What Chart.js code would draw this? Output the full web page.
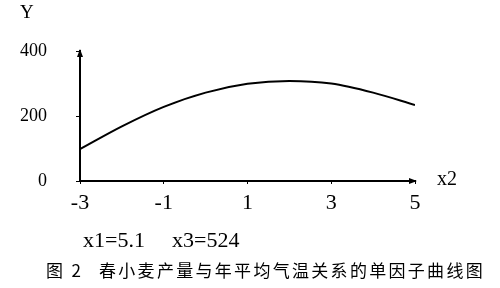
<!DOCTYPE html>
<html>
<head>
<meta charset="utf-8">
<script src="https://cdn.jsdelivr.net/npm/chart.js@4.4.1/dist/chart.umd.min.js"></script>
<style>
    html, body { margin: 0; padding: 0; background: #fff; }
    #wrap { position: relative; width: 500px; height: 288px; overflow: hidden; }
    #wrap canvas { position: absolute; left: 0; top: 0; }
    .txt { position: absolute; line-height: 1; color: #000; white-space: nowrap; }
    .serif { font-family: "Liberation Serif", "DejaVu Serif", serif; }
    .cjk { font-family: "Noto Sans CJK SC", sans-serif; font-size: 17px; letter-spacing: 2.3px; }
</style>
</head>
<body>
<div id="wrap">
    <canvas id="curveChart" width="500" height="288"></canvas>
    <div class="txt serif" style="left:20px; top:2px; font-size:19px;">Y</div>
    <div class="txt serif" style="left:437px; top:168px; font-size:20px;">x2</div>
    <div class="txt serif" style="left:83px; top:229px; font-size:22px;">x1=5.1</div>
    <div class="txt serif" style="left:172px; top:229px; font-size:22px;">x3=524</div>
    <div class="txt cjk" style="left:46px; top:261px;">图 2</div>
    <div class="txt cjk" style="left:99px; top:261px;">春小麦产量与年平均气温关系的单因子曲线图</div>
</div>

<script>
// x2 = annual mean temperature (coded), Y = spring wheat yield
const xValues = [-3, -2, -1, 0, 1, 2, 3, 4, 5];
const yieldValues = [98, 168, 228, 272, 299, 308, 300, 272, 234];
const xTicks = [-3, -1, 1, 3, 5];
const yTicks = [0, 200, 400];

const points = xValues.map((x, i) => ({ x: x, y: yieldValues[i] }));

// Arrow heads on the end of both axes
const axisArrows = {
    id: 'axisArrows',
    afterDraw(chart) {
        const ctx = chart.ctx;
        const a = chart.chartArea;
        ctx.save();
        ctx.fillStyle = '#000';
        // y axis arrow (top)
        ctx.beginPath();
        ctx.moveTo(a.left, a.top - 2);
        ctx.lineTo(a.left - 3, a.top + 6);
        ctx.lineTo(a.left + 3, a.top + 6);
        ctx.closePath();
        ctx.fill();
        // x axis arrow (right)
        ctx.beginPath();
        ctx.moveTo(a.right + 2, a.bottom);
        ctx.lineTo(a.right - 6, a.bottom - 3);
        ctx.lineTo(a.right - 6, a.bottom + 3);
        ctx.closePath();
        ctx.fill();
        ctx.restore();
    }
};

const ctx = document.getElementById('curveChart');

new Chart(ctx, {
    type: 'line',
    data: {
        datasets: [{
            data: points,
            borderColor: '#000',
            borderWidth: 2,
            cubicInterpolationMode: 'monotone',
            pointRadius: 0,
            fill: false
        }]
    },
    options: {
        responsive: false,
        animation: false,
        events: [],
        layout: {
            padding: { left: 0, right: 85, top: 51, bottom: 77 }
        },
        plugins: {
            legend: { display: false },
            tooltip: { enabled: false }
        },
        scales: {
            x: {
                type: 'linear',
                min: -3,
                max: 5,
                afterBuildTicks: (scale) => { scale.ticks = xTicks.map(v => ({ value: v })); },
                afterFit: (scale) => { scale.height = 30; },
                border: { color: '#000', width: 2 },
                grid: { drawOnChartArea: false, color: '#000', tickLength: 3, lineWidth: 1 },
                ticks: {
                    color: '#000',
                    padding: 6,
                    maxRotation: 0,
                    font: { family: "'Liberation Serif', serif", size: 22 }
                }
            },
            y: {
                min: 0,
                max: 400,
                afterBuildTicks: (scale) => { scale.ticks = yTicks.map(v => ({ value: v })); },
                afterFit: (scale) => { scale.width = 80; },
                border: { color: '#000', width: 2 },
                grid: { drawOnChartArea: false, color: '#000', tickLength: 4, lineWidth: 1 },
                ticks: {
                    color: '#000',
                    padding: 29,
                    font: { family: "'Liberation Serif', serif", size: 18 }
                }
            }
        }
    },
    plugins: [axisArrows]
});
</script>
</body>
</html>
